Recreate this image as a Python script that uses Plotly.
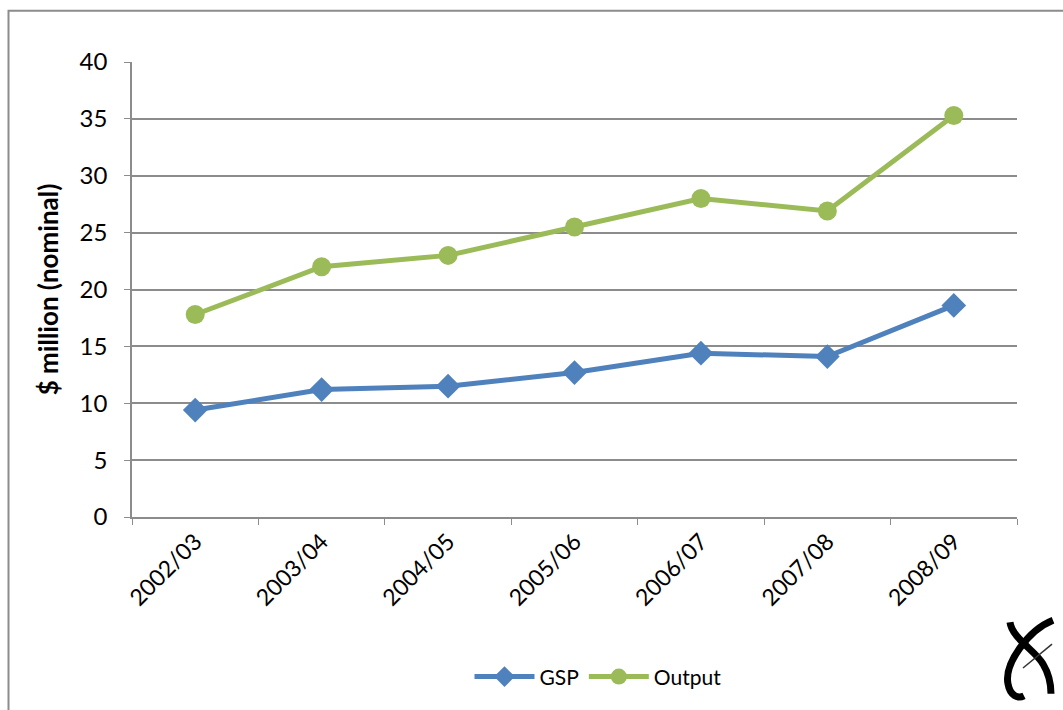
import plotly.graph_objects as go

# Financial years and series values ($ million, nominal)
years = ["2002/03", "2003/04", "2004/05", "2005/06", "2006/07", "2007/08", "2008/09"]
gsp = [9.4, 11.2, 11.5, 12.7, 14.4, 14.1, 18.6]
output = [17.8, 22.0, 23.0, 25.5, 28.0, 26.9, 35.3]
y_ticks = [0, 5, 10, 15, 20, 25, 30, 35, 40]

FONT = "Lato, 'Open Sans', sans-serif"
GRID = "#8c8c8c"

fig = go.Figure()
fig.add_trace(go.Scatter(
    x=years, y=gsp, name="GSP", mode="lines+markers",
    line=dict(color="#4f81bd", width=5),
    marker=dict(symbol="diamond", size=19, color="#4f81bd"),
))
fig.add_trace(go.Scatter(
    x=years, y=output, name="Output", mode="lines+markers",
    line=dict(color="#9bbb59", width=5),
    marker=dict(symbol="circle", size=19, color="#9bbb59"),
))

# Plot-area pixel frame used to place decorations in paper coordinates
L, R, T, B = 132, 1017, 62, 520
def px(x):
    return (x - L) / (R - L)
def py(y):
    return (B - y) / (B - T)

# Outer chart border
shapes = [dict(type="rect", xref="paper", yref="paper",
               x0=px(8.5), x1=px(1075), y0=py(10.5), y1=py(725),
               line=dict(color="#8c8c8c", width=2), fillcolor="rgba(0,0,0,0)",
               layer="below")]

# Small logo mark in the lower-right corner
def path(points):
    (x0, y0), rest = points[0], points[1:]
    d = f"M {px(x0):.5f},{py(y0):.5f}"
    for i in range(0, len(rest), 3):
        c = rest[i:i + 3]
        d += " C " + " ".join(f"{px(a):.5f},{py(b):.5f}" for a, b in c)
    return d

shapes.append(dict(type="path", xref="paper", yref="paper",
                   path=path([(1010, 626), (1012, 642), (1036, 655), (1043, 668),
                              (1049, 678), (1051, 688), (1051, 698)]),
                   line=dict(color="black", width=7)))
shapes.append(dict(type="path", xref="paper", yref="paper",
                   path=path([(1053, 624), (1028, 634), (1004, 668), (1008, 688),
                              (1010, 700), (1018, 703), (1024, 700)]),
                   line=dict(color="black", width=7)))
shapes.append(dict(type="path", xref="paper", yref="paper",
                   path=f"M {px(1023):.5f},{py(672):.5f} L {px(1052):.5f},{py(648):.5f}",
                   line=dict(color="#333333", width=1.5)))

fig.update_layout(
    width=1063, height=710,
    margin=dict(l=L, r=1063 - R, t=T, b=710 - B),
    paper_bgcolor="white", plot_bgcolor="white",
    font=dict(family=FONT, color="black", size=21),
    showlegend=True,
    legend=dict(orientation="h", x=px(598), y=py(681), xanchor="center", yanchor="middle",
                font=dict(size=21, family=FONT), itemwidth=60, bgcolor="rgba(0,0,0,0)"),
    shapes=shapes,
    xaxis=dict(
        type="category", range=[-0.5, 6.5], tickangle=-45,
        showgrid=False, showline=True, linecolor=GRID, linewidth=2,
        ticks="outside", tickson="boundaries", ticklen=6, tickcolor=GRID, tickwidth=1,
        tickfont=dict(size=23, family=FONT),
    ),
    yaxis=dict(
        range=[0, 40], tickvals=y_ticks, ticks="outside", ticklen=6, tickcolor=GRID,
        showgrid=True, gridcolor=GRID, gridwidth=1.5,
        showline=True, linecolor=GRID, linewidth=1.5, zeroline=False,
        tickfont=dict(size=24, family=FONT), ticklabelstandoff=12,
        title=dict(text="<b>$ million (nominal)</b>", font=dict(size=26, family=FONT), standoff=14),
    ),
)

fig.write_html("out.html")
